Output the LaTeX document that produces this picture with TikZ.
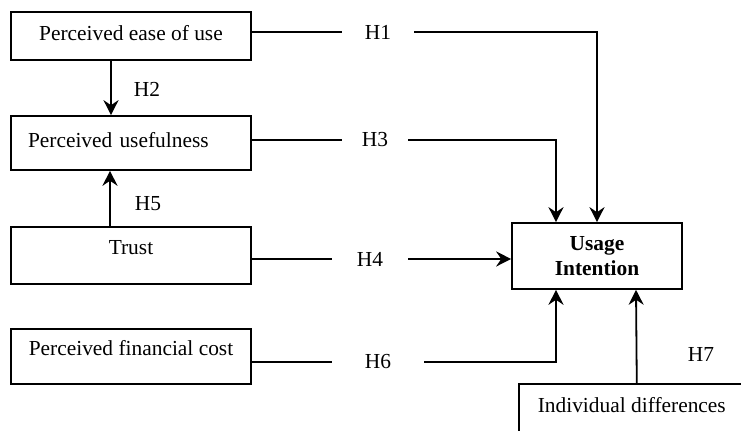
\documentclass[tikz,border=0pt]{standalone}
\usepackage{fontspec}
\setmainfont{Liberation Serif}
\usetikzlibrary{arrows.meta}
\tikzset{
  box/.style={draw,line width=0.8pt,minimum width=120pt,inner sep=0pt},
  lift/.style={text height=7pt,text depth=#1},
  hyp/.style={inner ysep=0pt,inner xsep=#1},
  link/.style={line width=0.9pt},
  >={Stealth[length=7.5pt,width=7.5pt,inset=2.5pt]}
}
\begin{document}
\begin{tikzpicture}[x=0.5pt,y=-0.5pt,font=\fontsize{10.7}{12.5}\selectfont]
\clip (0,0) rectangle (741,431);
\node[box,lift=2pt,minimum height=24pt] (ease) at (131,36) {Perceived ease of use};
\node[box,lift=2pt,minimum height=27pt,align=left,text width=103pt,inner xsep=8.5pt] (useful) at (131,143) {Perceived usefulness};
\node[box,lift=7.5pt,minimum height=28.5pt] (trust) at (131,255.5) {Trust};
\node[box,lift=7.5pt,minimum height=27.5pt] (cost) at (131,356.5) {Perceived financial cost};
\node[box,minimum width=85pt,minimum height=33pt,align=center,font=\fontsize{10.7}{12.5}\selectfont\bfseries] (ui) at (597,256) {Usage\\Intention};
\node[draw,line width=0.8pt,anchor=north west,minimum width=113pt,inner sep=0pt,text height=14.5pt,text depth=30pt] (indiv) at (518,383) {Individual differences};
\node[hyp=11.5pt] (h1) at (378,32) {H1};
\node[hyp=4pt] (h2) at (147,89) {H2};
\node[hyp=10pt] (h3) at (375,140) {H3};
\node[hyp=12.5pt] (h4) at (370,259) {H4};
\node[hyp=4pt] (h5) at (148,204) {H5};
\node[hyp=16.5pt] (h6) at (378,362) {H6};
\node[hyp=4pt] (h7) at (701,355) {H7};
\draw[link] (ease.east |- h1.west) -- (h1.west);
\draw[link,->] (h1.east) -| (ui.north);
\draw[link,->] ([xshift=-10pt]ease.south) -- ([xshift=-10pt]useful.north);
\draw[link] (useful.east |- h3.west) -- (h3.west);
\draw[link,->] (h3.east) -| ([xshift=-20.5pt]ui.north);
\draw[link,->] ([xshift=-10.5pt]trust.north) -- ([xshift=-10.5pt]useful.south);
\draw[link] (trust.east |- h4.west) -- (h4.west);
\draw[link,->] (h4.east) -- (h4.east -| ui.west);
\draw[link] (cost.east |- h6.west) -- (h6.west);
\draw[link,->] (h6.east) -| ([xshift=-20.5pt]ui.south);
\draw[link,->] ([xshift=2.5pt]indiv.north) -- ([xshift=19.5pt]ui.south);
\end{tikzpicture}
\end{document}
